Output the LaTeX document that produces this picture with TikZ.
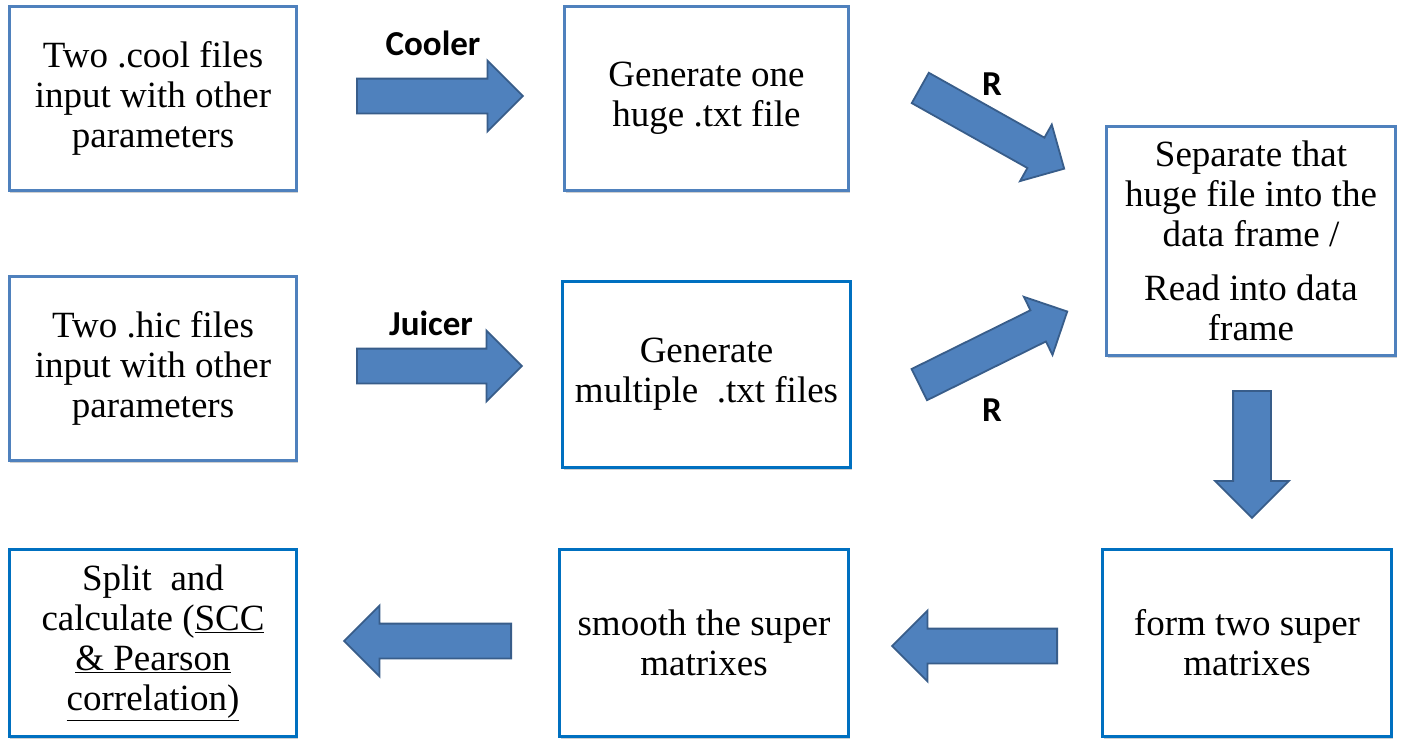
\documentclass[tikz,border=0pt]{standalone}
\usepackage{fontspec}
\newfontfamily\boxfont{LiberationSerif}[Extension=.ttf, UprightFont=*-Regular, BoldFont=*-Bold]
\newfontfamily\labelfont{Carlito}
\usetikzlibrary{shapes.arrows,shadows}
\definecolor{boxA}{HTML}{4F81BD}
\definecolor{boxB}{HTML}{0070C0}
\definecolor{arrfill}{HTML}{4F81BD}
\definecolor{arrline}{HTML}{385D8A}
\tikzset{
  procbox/.style={draw=#1, line width=3.2bp, fill=white, rectangle,
    inner sep=0pt, align=center,
    font=\boxfont\fontsize{37bp}{40bp}\selectfont,
    drop shadow={shadow xshift=1bp, shadow yshift=-2.5bp, opacity=0.3, fill=black!60}},
  blockarrow/.style={single arrow, draw=arrline, fill=arrfill, line width=1.8bp,
    inner sep=0pt, text height=16.5bp, text depth=16.5bp, text width=0pt,
    single arrow head extend=18bp, single arrow tip angle=90,
    minimum height=#1, anchor=tail},
  tag/.style={font=\labelfont\bfseries\fontsize{35bp}{38bp}\selectfont, inner sep=0pt}
}
\begin{document}
\begin{tikzpicture}[x=1bp,y=-1bp]
\useasboundingbox[fill=white] (0,0) rectangle (1415,755);

% boxes
\node[procbox=boxA, minimum width=287bp, minimum height=184bp] (cool) at (153,98.5)
  {Two .cool files\\input with other\\parameters};
\node[procbox=boxA, minimum width=284bp, minimum height=184bp] (onetxt) at (706.5,98.5)
  {Generate one\\huge .txt file};
\node[procbox=boxA, minimum width=289bp, minimum height=229bp] (sep) at (1251,241)
  {Separate that\\huge file into the\\data frame /\\[14bp]Read into data\\frame};
\node[procbox=boxA, minimum width=287bp, minimum height=184bp] (hic) at (153,368.5)
  {Two .hic files\\input with other\\parameters};
\node[procbox=boxB, minimum width=288bp, minimum height=186bp] (multi) at (706.5,374.5)
  {Generate\\multiple\ \ .txt files};
\node[procbox=boxB, minimum width=287bp, minimum height=187bp] (split) at (153,643)
  {Split\ \ and\\calculate (\underline{SCC}\\\underline{\&\ Pearson}\\\underline{correlation)}};
\node[procbox=boxB, minimum width=289bp, minimum height=187bp] (smooth) at (704,643)
  {smooth the super\\matrixes};
\node[procbox=boxB, minimum width=289bp, minimum height=187bp] (form) at (1247,643)
  {form two super\\matrixes};

% block arrows (placed by their tails)
\node[blockarrow=166bp] (acool) at (356,96) {};
\node[blockarrow=165bp] (ajuicer) at (356,366) {};
\node[blockarrow=165bp, single arrow head extend=15bp, rotate=-29.3] (ar1) at (919.5,87.5) {};
\node[blockarrow=165bp, single arrow head extend=15bp, rotate=26.3] (ar2) at (918.5,385) {};
\node[blockarrow=127bp, text height=18bp, text depth=18bp, rotate=-90] (adown) at (1252,390) {};
\node[blockarrow=165bp, rotate=180] (aleft1) at (1058,646) {};
\node[blockarrow=167bp, rotate=180] (aleft2) at (512,641) {};

% labels
\node[tag] (tcool) at (433,43) {Cooler};
\node[tag] (tjuicer) at (431,323) {Juicer};
\node[tag] (tr1) at (992,84) {R};
\node[tag] (tr2) at (992,410) {R};
\end{tikzpicture}
\end{document}
